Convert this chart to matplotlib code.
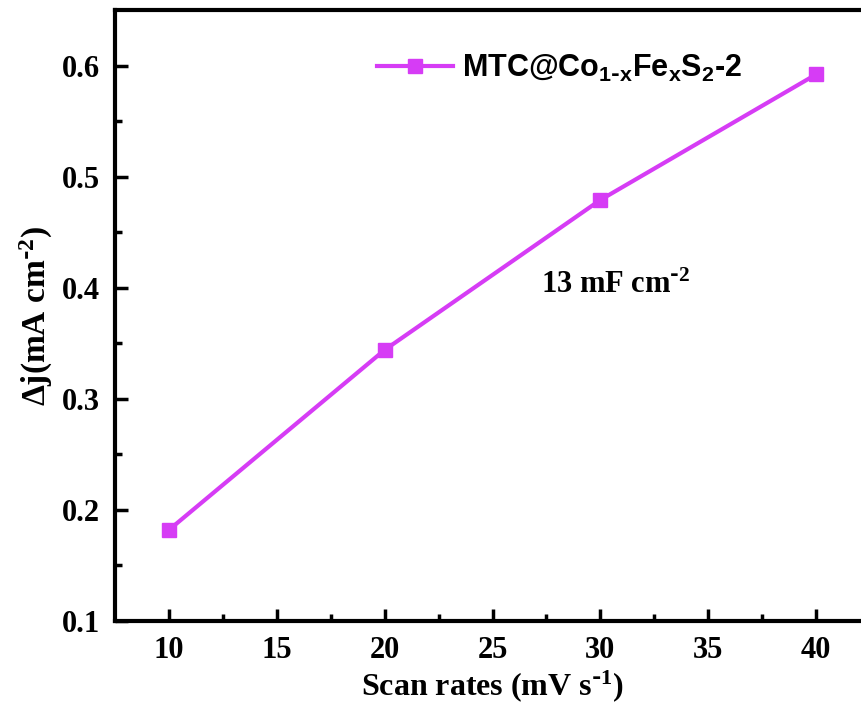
import matplotlib
matplotlib.use("Agg")
import matplotlib.pyplot as plt

scan_rates = [10, 20, 30, 40]
delta_j = [0.182, 0.344, 0.479, 0.592]
series_label = r"MTC@Co$_{1\text{-}x}$Fe$_x$S$_2$-2"
x_ticks = [10, 15, 20, 25, 30, 35, 40]
y_ticks = [0.1, 0.2, 0.3, 0.4, 0.5, 0.6]

plt.rcParams['mathtext.default'] = 'regular'
plt.rcParams['font.family'] = ['Liberation Serif', 'DejaVu Serif']
plt.rcParams['font.weight'] = 'bold'
color = '#D63CF5'

fig = plt.figure(figsize=(8.61, 7.07), dpi=100)
ax = fig.add_axes([115/861, 86/707, 755/861, 611/707])

ax.plot(scan_rates, delta_j, color=color, lw=3, marker='s', ms=9.5,
        markerfacecolor=color, markeredgecolor=color, label=series_label)

ax.set_xlim(7.5, 42.5)
ax.set_ylim(0.1, 0.65)
ax.set_xticks(x_ticks)
ax.set_yticks(y_ticks)
ax.set_xticks([12.5, 17.5, 22.5, 27.5, 32.5, 37.5], minor=True)
ax.set_yticks([0.15, 0.25, 0.35, 0.45, 0.55], minor=True)
ax.set_yticklabels([f"{v:.1f}" for v in y_ticks])

ax.tick_params(which='major', direction='in', length=9, width=2.5, pad=11, labelsize=22)
ax.tick_params(which='minor', direction='in', length=5, width=2.5)
for s in ax.spines.values():
    s.set_linewidth(3)

ax.set_xlabel(r"Scan rates (mV s$^{\text{-}1}$)", fontsize=23, fontweight='bold', labelpad=2)
ax.set_ylabel(r"Δj(mA cm$^{\text{-}2}$)", fontsize=24, fontweight='bold', labelpad=5)

ax.text(0.564, 0.537, r"13 mF cm$^{\text{-}2}$", transform=ax.transAxes,
        fontsize=22, va='baseline')

leg = ax.legend(loc='upper left', bbox_to_anchor=(0.31, 0.975), frameon=False,
                prop={'family': 'Liberation Sans', 'weight': 'bold', 'size': 22},
                handlelength=2.5, handletextpad=0.3)

fig.savefig("out.png", dpi=100)
